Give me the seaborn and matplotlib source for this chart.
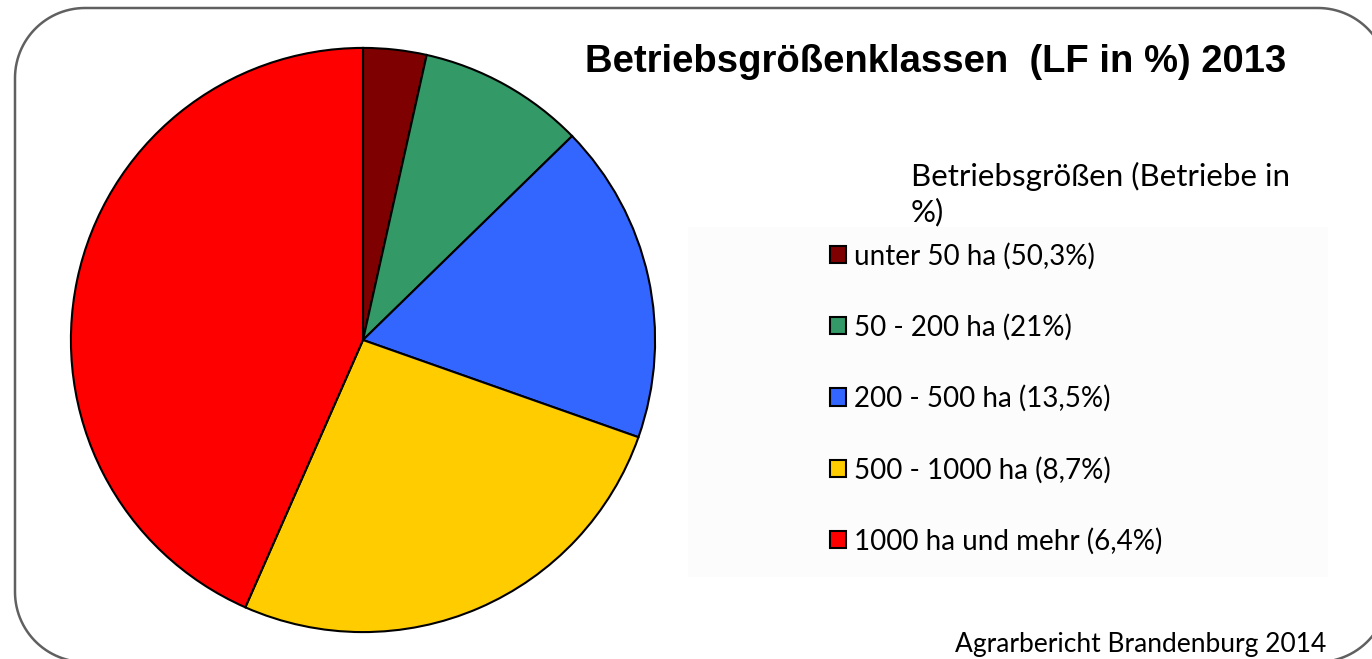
import matplotlib
matplotlib.use("Agg")
import numpy as np
import matplotlib.pyplot as plt
from matplotlib.patches import Rectangle, Polygon
import seaborn as sns

# DATA
labels = ["unter 50 ha (50,3%)", "50 - 200 ha (21%)", "200 - 500 ha (13,5%)",
          "500 - 1000 ha (8,7%)", "1000 ha und mehr (6,4%)"]
lf_share = [3.5, 9.2, 17.7, 26.2, 43.4]
colors = ["#7f0000", "#339966", "#3366ff", "#ffcc00", "#ff0000"]
title = "Betriebsgrößenklassen  (LF in %) 2013"
legend_title = "Betriebsgrößen (Betriebe in\n%)"
source = "Agrarbericht Brandenburg 2014"

sns.set_theme(style="white")
plt.rcParams["font.family"] = ["Lato", "DejaVu Sans"]
plt.rcParams["text.color"] = "black"

W, H = 1372, 659
fig = plt.figure(figsize=(W / 100, H / 100), dpi=100)
fig.patch.set_facecolor("white")


def rounded_frame(x0, y0, x1, y1, rad, n=30):
    # outline of a rounded rectangle, pixel units (y downwards)
    pts = []
    corners = [(x1 - rad, y0 + rad, -90, 0), (x1 - rad, y1 - rad, 0, 90),
               (x0 + rad, y1 - rad, 90, 180), (x0 + rad, y0 + rad, 180, 270)]
    for ccx, ccy, a0, a1 in corners:
        t = np.radians(np.linspace(a0, a1, n))
        pts.extend(zip(ccx + rad * np.cos(t), ccy + rad * np.sin(t)))
    return np.array(pts)


# background axes in pixel units for the frame and faint legend panel
bg = fig.add_axes([0, 0, 1, 1], zorder=0)
bg.set_xlim(0, W)
bg.set_ylim(H, 0)
bg.set_axis_off()
bg.add_patch(Rectangle((688, 227), 640, 350, facecolor="#fcfcfc",
                       edgecolor="none"))
bg.add_patch(Polygon(rounded_frame(15, 8, 1388, 662, 70), closed=True,
                     facecolor="none", edgecolor="#606060", linewidth=1.8,
                     clip_on=False))

# pie
cx, cy, r = 363, H - 340, 295
ax = fig.add_axes([(cx - r) / W, (cy - r) / H, 2 * r / W, 2 * r / H], zorder=1)
wedges, _ = ax.pie(lf_share, colors=sns.color_palette(colors), startangle=90,
                   counterclock=False,
                   wedgeprops=dict(edgecolor="black", linewidth=1.5))
ax.set_xlim(-1.01, 1.01)
ax.set_ylim(-1.01, 1.01)
ax.set_axis_off()

fig.text(585 / W, (H - 62) / H, title, fontsize=27.5, fontweight="bold",
         family=["Liberation Sans", "DejaVu Sans"], va="center", ha="left")

fig.text(911 / W, (H - 194) / H, legend_title, fontsize=22.5, va="center",
         ha="left", linespacing=1.3)

leg = fig.legend(wedges, labels, loc="center left",
                 bbox_to_anchor=(830 / W, (H - 398.5) / H),
                 frameon=False, fontsize=20, borderpad=0, borderaxespad=0,
                 handlelength=0.58, handleheight=0.58, handletextpad=0.3,
                 labelspacing=1.6, labelcolor="black")

fig.text(955 / W, 7 / H, source, fontsize=19, va="baseline", ha="left")

fig.savefig("out.png", dpi=100)
